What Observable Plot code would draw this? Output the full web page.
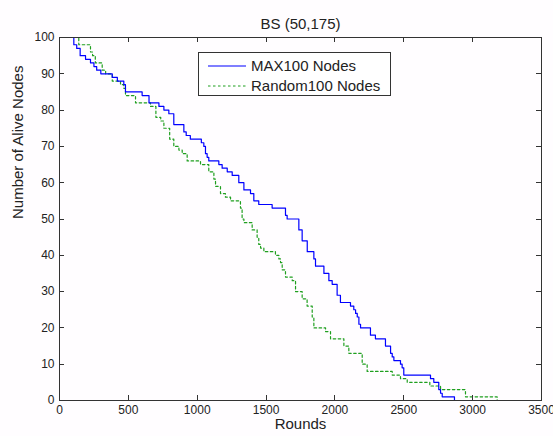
<!DOCTYPE html>
<html>
<head>
<meta charset="utf-8">
<script src="https://cdn.jsdelivr.net/npm/d3@7"></script>
<script src="https://cdn.jsdelivr.net/npm/@observablehq/plot@0.6"></script>
<style>
  html, body { margin: 0; padding: 0; background: #fffdff; }
  #wrap { position: relative; width: 553px; height: 436px; font-family: "Liberation Sans", Arial, sans-serif; }
  #legend { position: absolute; left: 198px; top: 52px; width: 193px; height: 44px; border: 1px solid #333; background: #fff; box-sizing: border-box; }
  #legend .row { position: absolute; left: 8px; height: 18px; font-size: 15px; color: #222; white-space: nowrap; }
  #legend svg { position: absolute; left: 0; top: 0; }
  #legend span { position: absolute; left: 44px; top: 0; line-height: 18px; }
</style>
</head>
<body>
<div id="wrap"></div>
<script>
const title = "BS (50,175)";
const xLabel = "Rounds";
const yLabel = "Number of Alive Nodes";
const seriesNames = ["MAX100 Nodes", "Random100 Nodes"];
const xTicks = [0, 500, 1000, 1500, 2000, 2500, 3000, 3500];
const yTicks = [0, 10, 20, 30, 40, 50, 60, 70, 80, 90, 100];

const maxRounds = [0, 104, 125, 150, 189, 225, 250, 270, 300, 383, 420, 467, 479, 600, 650, 722, 758, 794, 830, 903, 920, 950, 1030, 1048, 1060, 1072, 1084, 1157, 1181, 1218, 1254, 1302, 1339, 1387, 1411, 1447, 1544, 1641, 1653, 1738, 1762, 1799, 1847, 1859, 1920, 1956, 1980, 2016, 2040, 2113, 2137, 2150, 2162, 2174, 2186, 2258, 2294, 2367, 2404, 2416, 2428, 2476, 2488, 2500, 2694, 2718, 2754, 2767, 2779, 2868];
const maxNodes  = [100, 98, 97, 95, 94, 93, 92, 91, 90, 89, 88, 87, 85, 84, 82, 81, 80, 79, 76, 74, 73, 72, 71, 70, 68, 67, 66, 65, 64, 63, 62, 60, 58, 57, 55, 54, 53, 51, 50, 47, 44, 41, 39, 37, 35, 33, 32, 29, 27, 26, 25, 24, 23, 21, 20, 18, 17, 15, 13, 12, 11, 10, 9, 7, 6, 5, 3, 2, 1, 0];

const randRounds = [0, 140, 225, 240, 260, 310, 335, 383, 443, 467, 479, 552, 661, 700, 735, 758, 800, 830, 867, 891, 927, 1024, 1084, 1121, 1133, 1169, 1205, 1242, 1314, 1326, 1339, 1399, 1435, 1447, 1460, 1484, 1568, 1593, 1605, 1617, 1641, 1690, 1714, 1762, 1798, 1835, 1847, 1932, 1968, 2065, 2101, 2198, 2234, 2416, 2476, 2525, 2689, 2767, 2948, 3178];
const randNodes  = [100, 98, 96, 95, 93, 91, 90, 88, 87, 86, 84, 82, 81, 78, 77, 75, 72, 70, 69, 68, 66, 65, 63, 61, 59, 57, 56, 55, 53, 50, 49, 47, 45, 43, 42, 41, 40, 39, 38, 36, 34, 33, 30, 28, 26, 23, 20, 19, 17, 15, 13, 10, 8, 7, 6, 5, 4, 3, 1, 0];

const colors = ["#0000ff", "#1f9f1f"];

const maxData = maxRounds.map((r, i) => ({round: r, nodes: maxNodes[i]}));
const randData = randRounds.map((r, i) => ({round: r, nodes: randNodes[i]}));

const xDomain = [0, 3500], yDomain = [0, 100];
const tickLen = 5;
const axisColor = "#333";

const chart = Plot.plot({
  width: 553,
  height: 436,
  marginLeft: 59,
  marginRight: 12,
  marginTop: 37,
  marginBottom: 36,
  style: {background: "transparent", fontFamily: "'Liberation Sans', Arial, sans-serif", fontSize: "12px", color: "#222"},
  x: {domain: xDomain, ticks: xTicks},
  y: {domain: yDomain, ticks: yTicks},
  marks: [
    Plot.line(randData, {x: "round", y: "nodes", curve: "step-after", stroke: colors[1], strokeWidth: 1.2, strokeDasharray: "2.5,2.5"}),
    Plot.line(maxData, {x: "round", y: "nodes", curve: "step-after", stroke: colors[0], strokeWidth: 1.2}),
    Plot.axisX({anchor: "bottom", ticks: xTicks, tickSize: 0, tickPadding: 5, label: null, tickFormat: d => String(d)}),
    Plot.axisY({anchor: "left", ticks: yTicks, tickSize: 0, tickPadding: 5, label: null, tickFormat: d => String(d)}),
    Plot.frame({stroke: axisColor, strokeWidth: 1}),
    Plot.text([title], {frameAnchor: "top", dy: -19, fontSize: 15, fill: "#222"}),
    Plot.text([xLabel], {frameAnchor: "bottom", dy: 28, fontSize: 15, fill: "#222"}),
    Plot.text([yLabel], {frameAnchor: "left", dx: -41, rotate: -90, fontSize: 15, fill: "#222"})
  ]
});
const wrap = document.getElementById("wrap");
wrap.appendChild(chart);

// inward tick marks on all four sides, positioned with the plot's own scales
const sx = chart.scale("x"), sy = chart.scale("y");
const xs = d3.scaleLinear().domain(sx.domain).range(sx.range);
const ys = d3.scaleLinear().domain(sy.domain).range(sy.range);
const [xL, xR] = d3.extent(sx.range), [yT, yB] = d3.extent(sy.range);
const tg = d3.select(chart).append("g").attr("stroke", axisColor).attr("stroke-width", 1);
xTicks.forEach(v => {
  const px = Math.round(xs(v)) + 0.5;
  tg.append("line").attr("x1", px).attr("x2", px).attr("y1", yB).attr("y2", yB - tickLen);
  tg.append("line").attr("x1", px).attr("x2", px).attr("y1", yT).attr("y2", yT + tickLen);
});
yTicks.forEach(v => {
  const py = Math.round(ys(v)) + 0.5;
  tg.append("line").attr("y1", py).attr("y2", py).attr("x1", xL).attr("x2", xL + tickLen);
  tg.append("line").attr("y1", py).attr("y2", py).attr("x1", xR).attr("x2", xR - tickLen);
});

const legend = document.createElement("div");
legend.id = "legend";
const rowTops = [4, 24];
seriesNames.forEach((name, i) => {
  const row = document.createElement("div");
  row.className = "row";
  row.style.top = rowTops[i] + "px";
  row.innerHTML = `<svg width="40" height="18"><line x1="1" x2="39" y1="9" y2="9" stroke="${colors[i]}" stroke-width="1.2" ${i === 1 ? 'stroke-dasharray="2.5,2.5"' : ''}/></svg><span>${name}</span>`;
  legend.appendChild(row);
});
wrap.appendChild(legend);
</script>
</body>
</html>
